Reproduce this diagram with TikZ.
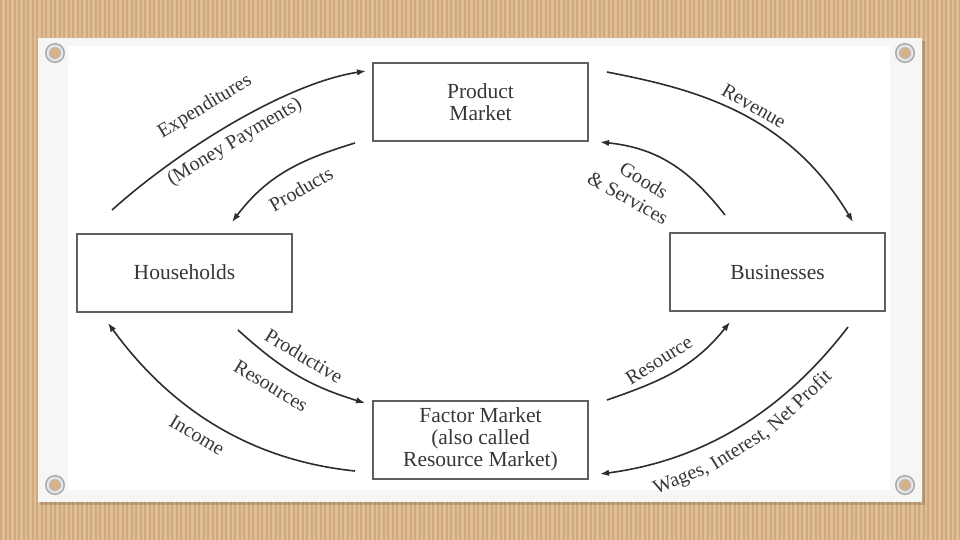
\documentclass[tikz,border=0pt]{standalone}
\usepackage{fontspec}
\setmainfont{Liberation Serif}
\usetikzlibrary{arrows.meta}
\newcommand{\lblf}{\fontsize{20}{22}\selectfont}
\newcommand{\boxf}{\fontsize{21.5}{22.3}\selectfont}
\definecolor{board}{RGB}{224,191,150}
\definecolor{stripe}{RGB}{208,170,126}
\definecolor{ink}{RGB}{55,55,55}
\definecolor{frame}{RGB}{95,95,95}
\definecolor{flowc}{RGB}{45,45,45}
\definecolor{hole}{RGB}{214,178,135}
\definecolor{paperedge}{RGB}{246,246,246}
\begin{document}
\begin{tikzpicture}[x=1pt,y=-1pt,
  box/.style={draw=frame,line width=2pt,minimum width=215pt,minimum height=78pt,inner sep=0pt,align=center,font=\boxf,text=ink},
  lbl/.style={font=\lblf,text=ink,inner sep=0pt},
  flow/.style={draw=flowc,line width=1.6pt,-{Latex[length=9pt,width=6.5pt]}}]
\useasboundingbox (0,0) rectangle (960,540);
% board
\fill[board] (0,0) rectangle (960,540);
\foreach \i in {0,...,213}{\fill[stripe] (\i*4.5,0) rectangle ++(2,540);}
% paper
\fill[black,opacity=0.15] (40,41) rectangle (925,505);
\fill[paperedge] (38,38) rectangle (922,502);
\fill[white] (68,46) rectangle (890,490);
% grommets
\foreach \gx/\gy in {55/53,905/53,55/485,905/485}{
  \fill[gray!70] (\gx,\gy) circle[radius=10pt];
  \fill[gray!20] (\gx,\gy) circle[radius=8.5pt];
  \fill[gray!55] (\gx,\gy) circle[radius=6pt];
  \fill[hole] (\gx,\gy) circle[radius=5pt];
}
% boxes
\node[box] (pm) at (480.5,102) {Product\\Market};
\node[box] (hh) at (184.5,272.5) {Households};
\node[box] (bz) at (777.5,272) {Businesses};
\node[box] (fm) at (480.5,439.5) {Factor Market\\(also called\\Resource Market)};
% connector ends
\coordinate (expS) at (112,210);  \coordinate (expE) at (366,71);
\coordinate (proS) at (355,143);  \coordinate (proE) at (232,222);
\coordinate (revS) at (607,72);   \coordinate (revE) at (853,222);
\coordinate (gooS) at (725,215);  \coordinate (gooE) at (600,142);
\coordinate (wagS) at (848,327);  \coordinate (wagE) at (600,474);
\coordinate (incS) at (355,471);  \coordinate (incE) at (108,323);
\coordinate (prdS) at (238,330);  \coordinate (prdE) at (365,403);
\coordinate (resS) at (607,400);  \coordinate (resE) at (730,322);
% connectors
\draw[flow] (expS) .. controls (180,149) and (287,83) .. (expE);
\draw[flow] (proS) .. controls (299,160) and (267,176) .. (proE);
\draw[flow] (revS) .. controls (688,88) and (786,110) .. (revE);
\draw[flow] (gooS) .. controls (689,169) and (657,148) .. (gooE);
\draw[flow] (wagS) .. controls (786,408) and (707,460) .. (wagE);
\draw[flow] (incS) .. controls (249,460) and (170,408) .. (incE);
\draw[flow] (prdS) .. controls (281,369) and (309,386) .. (prdE);
\draw[flow] (resS) .. controls (662,381) and (694,367) .. (resE);
% labels
\node[lbl,rotate=31] (lexp) at (205,107) {Expenditures};
\node[lbl,rotate=31] (lmon) at (235,142) {(Money Payments)};
\node[lbl,rotate=30] (lprod) at (301,189) {Products};
\node[lbl,rotate=-30] (lrev) at (754,106) {Revenue};
\node[lbl,rotate=-31] (lgood) at (644,180) {Goods};
\node[lbl,rotate=-29] (lserv) at (628,198) {\&~Services};
\node[lbl,rotate=-31] (lpr1) at (304,356) {Productive};
\node[lbl,rotate=-31] (lpr2) at (271,386) {Resources};
\node[lbl,rotate=-31] (linc) at (197,435) {Income};
\node[lbl,rotate=32] (lres) at (659,360) {Resource};
\node[lbl,anchor=base,rotate=22] (lwag1) at (683.2,483.3) {Wages,};
\node[lbl,anchor=base,rotate=32] (lwag2) at (743,452.9) {Interest,};
\node[lbl,anchor=base,rotate=43.7] (lwag3) at (803.9,405.5) {Net Profit};
\end{tikzpicture}
\end{document}
